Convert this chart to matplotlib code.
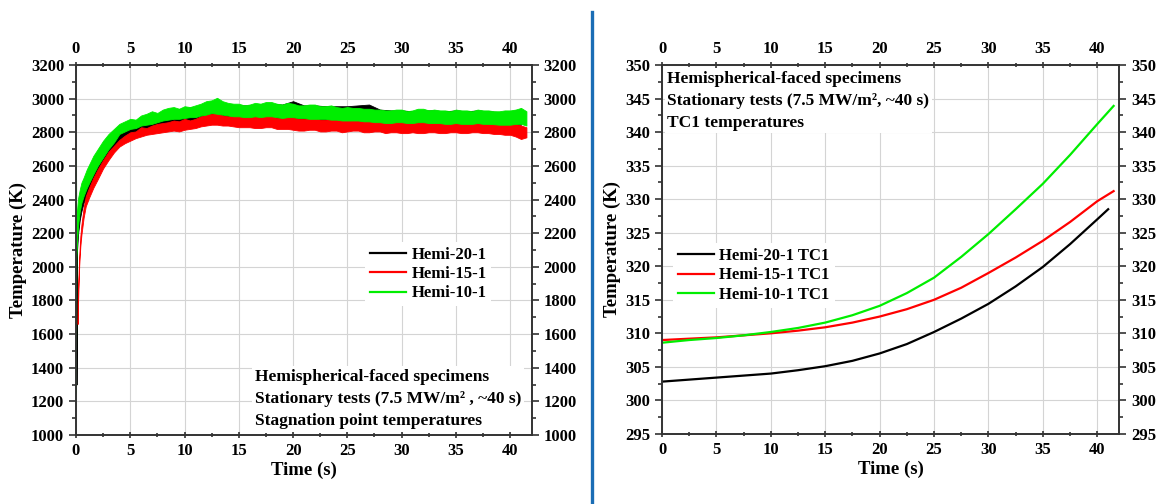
import matplotlib
matplotlib.use("Agg")
import matplotlib.pyplot as plt
from matplotlib.ticker import MultipleLocator
from matplotlib.lines import Line2D
import numpy as np

plt.rcParams["font.family"] = ["Liberation Serif", "DejaVu Serif"]
plt.rcParams["font.weight"] = "bold"

# ---- left panel: stagnation point temperatures (noise band read as low/high envelope)
green_t_early = [0, 0.03, 0.1, 0.2, 0.35, 0.5, 0.7, 1.0, 1.3, 1.6, 2.0, 2.5, 3.0, 3.5]
green_low_early = [1250, 2050, 2150, 2250, 2330, 2380, 2420, 2470, 2510, 2550, 2600, 2650, 2700, 2740]
green_high_early = [2640, 2300, 2330, 2410, 2460, 2500, 2530, 2580, 2620, 2660, 2700, 2750, 2790, 2820]
green_high = [
    2850, 2865, 2880, 2875, 2900, 2910, 2925, 2915, 2935, 2945,
    2950, 2940, 2955, 2950, 2960, 2970, 2985, 2990, 3005, 2985,
    2975, 2970, 2970, 2960, 2965, 2975, 2970, 2980, 2980, 2970,
    2965, 2975, 2970, 2960, 2960, 2965, 2965, 2955, 2955, 2960,
    2950, 2945, 2950, 2945, 2945, 2940, 2940, 2935, 2935, 2930,
    2930, 2935, 2935, 2925, 2930, 2940, 2940, 2930, 2935, 2930,
    2930, 2925, 2935, 2930, 2930, 2925, 2935, 2930, 2930, 2925,
    2925, 2930, 2930, 2935, 2945, 2925]
green_low = [
    2790, 2805, 2820, 2825, 2840, 2845, 2850, 2860, 2870, 2875,
    2880, 2880, 2885, 2890, 2890, 2900, 2905, 2915, 2910, 2905,
    2900, 2895, 2895, 2890, 2890, 2895, 2890, 2895, 2895, 2890,
    2885, 2890, 2890, 2885, 2885, 2880, 2880, 2880, 2880, 2875,
    2875, 2870, 2870, 2870, 2870, 2865, 2865, 2860, 2860, 2855,
    2855, 2860, 2860, 2855, 2855, 2860, 2860, 2855, 2855, 2855,
    2850, 2850, 2855, 2850, 2850, 2850, 2855, 2850, 2850, 2848,
    2845, 2845, 2845, 2850, 2850, 2840]

red_t_early = [0.15, 0.2, 0.25, 0.3, 0.4, 0.5, 0.7, 0.9, 1.2, 1.6, 2.0, 2.5, 3.0, 3.5]
red_low_early = [1660, 1800, 1920, 2010, 2120, 2190, 2290, 2360, 2410, 2470, 2520, 2585, 2635, 2680]
red_high_early = [1780, 1880, 1980, 2070, 2180, 2250, 2350, 2420, 2470, 2530, 2580, 2635, 2685, 2720]
red_high = [
    2755, 2780, 2800, 2805, 2830, 2825, 2840, 2850, 2855, 2860,
    2870, 2865, 2880, 2870, 2880, 2895, 2905, 2910, 2915, 2900,
    2895, 2900, 2905, 2890, 2890, 2895, 2895, 2900, 2900, 2885,
    2885, 2895, 2890, 2880, 2880, 2885, 2885, 2875, 2875, 2880,
    2880, 2870, 2870, 2875, 2875, 2865, 2870, 2875, 2875, 2865,
    2865, 2870, 2870, 2860, 2865, 2860, 2860, 2870, 2870, 2860,
    2865, 2870, 2870, 2860, 2860, 2870, 2870, 2865, 2865, 2860,
    2860, 2855, 2855, 2850, 2840, 2830]
red_low = [
    2715, 2735, 2750, 2765, 2775, 2785, 2790, 2795, 2800, 2805,
    2810, 2805, 2815, 2820, 2825, 2835, 2840, 2845, 2845, 2840,
    2840, 2835, 2830, 2830, 2830, 2825, 2825, 2830, 2830, 2820,
    2820, 2820, 2815, 2810, 2810, 2815, 2815, 2805, 2805, 2810,
    2810, 2800, 2805, 2810, 2810, 2800, 2800, 2805, 2805, 2795,
    2800, 2800, 2795, 2795, 2800, 2795, 2795, 2800, 2800, 2795,
    2795, 2800, 2800, 2795, 2795, 2800, 2800, 2795, 2795, 2790,
    2790, 2785, 2785, 2775, 2760, 2770]

black_t = [0.05, 0.1, 0.2, 0.35, 0.5, 0.7, 1.0, 1.3, 1.6, 2.0, 2.5, 3.0, 3.5,
           4, 5, 6, 7, 8, 9, 10, 11, 12, 13, 14, 15, 16, 17, 18, 19, 20,
           21, 22, 23, 24, 25, 26, 27, 28, 29, 30, 31, 32, 33, 34, 35, 36,
           37, 38, 39, 40, 41]
black_low = [1300, 2100, 2200, 2280, 2330, 2380, 2430, 2470, 2510, 2560, 2610, 2660, 2700,
             2745, 2775, 2805, 2825, 2845, 2860, 2870, 2875, 2885, 2890, 2885, 2880, 2880,
             2880, 2885, 2880, 2885, 2875, 2875, 2870, 2870, 2870, 2870, 2870, 2855, 2850,
             2850, 2850, 2850, 2850, 2845, 2850, 2845, 2850, 2845, 2840, 2840, 2845]
black_high = [2100, 2200, 2290, 2360, 2400, 2440, 2490, 2530, 2570, 2620, 2670, 2710, 2750,
              2800, 2835, 2865, 2890, 2910, 2930, 2945, 2950, 2965, 2975, 2965, 2960, 2960,
              2965, 2970, 2965, 2985, 2960, 2960, 2955, 2955, 2955, 2960, 2965, 2935, 2930,
              2930, 2925, 2930, 2930, 2925, 2930, 2925, 2930, 2925, 2920, 2925, 2935]

# ---- right panel: TC1 temperatures
tc_t20 = [0, 2.5, 5, 7.5, 10, 12.5, 15, 17.5, 20, 22.5, 25, 27.5, 30, 32.5, 35, 37.5, 40, 41]
tc_20 = [302.8, 303.1, 303.4, 303.7, 304.0, 304.5, 305.1, 305.9, 307.0, 308.4,
         310.2, 312.2, 314.4, 317.0, 319.9, 323.3, 327.0, 328.5]
tc_t = [0, 2.5, 5, 7.5, 10, 12.5, 15, 17.5, 20, 22.5, 25, 27.5, 30, 32.5, 35, 37.5, 40, 41.5]
tc_15 = [309.0, 309.2, 309.4, 309.7, 310.0, 310.4, 310.9, 311.6, 312.5, 313.6,
         315.0, 316.8, 319.0, 321.3, 323.8, 326.6, 329.7, 331.2]
tc_10 = [308.6, 309.0, 309.3, 309.7, 310.2, 310.8, 311.6, 312.7, 314.1, 316.0,
         318.3, 321.4, 324.8, 328.5, 332.3, 336.6, 341.2, 343.9]

BLACK, RED, GREEN = "#000000", "#ff0000", "#00ee00"

fig = plt.figure(figsize=(11.6, 5.04), dpi=100)
ax1 = fig.add_axes([0.0655, 0.137, 0.393, 0.734])
ax2 = fig.add_axes([0.5707, 0.139, 0.394, 0.732])


def style_axes(ax, ymaj, ymin):
    ax.xaxis.set_major_locator(MultipleLocator(5))
    ax.xaxis.set_minor_locator(MultipleLocator(2.5))
    ax.yaxis.set_major_locator(MultipleLocator(ymaj))
    ax.yaxis.set_minor_locator(MultipleLocator(ymin))
    ax.grid(True, which="major", color="#d4d4d4", lw=0.8)
    ax.set_axisbelow(True)
    ax.tick_params(which="both", bottom=True, left=True, right=True, top=True,
                   labelbottom=True, labelleft=True, labelright=True, labeltop=True,
                   direction="out", labelsize=12, color="#333333", width=1.2)
    ax.tick_params(which="major", length=5)
    ax.tick_params(which="minor", length=3)
    ax.tick_params(axis="x", which="both", top=True, direction="inout")
    for lab in ax.get_xticklabels() + ax.get_yticklabels():
        lab.set_fontweight("bold")
    for sp in ax.spines.values():
        sp.set_linewidth(1.4)
        sp.set_color("#333333")
    ax.set_xlabel("Time (s)", fontsize=13.5, fontweight="bold", labelpad=2)
    ax.set_ylabel("Temperature (K)", fontsize=13.5, fontweight="bold", labelpad=3)


# left panel
tg = np.concatenate([green_t_early, np.arange(4, 41.75, 0.5)])
tr = np.concatenate([red_t_early, np.arange(4, 41.75, 0.5)])
ax1.fill_between(black_t, black_low, black_high, color=BLACK, lw=0.6)
ax1.fill_between(tr, np.concatenate([red_low_early, red_low]),
                 np.concatenate([red_high_early, red_high]), color=RED, lw=0.6)
ax1.fill_between(tg, np.concatenate([green_low_early, green_low]),
                 np.concatenate([green_high_early, green_high]), color=GREEN, lw=0.6)
ax1.set_xlim(0, 42)
ax1.set_ylim(1000, 3200)
style_axes(ax1, 200, 100)

handles = [Line2D([], [], color=c, lw=1.6) for c in (BLACK, RED, GREEN)]
ax1.legend(handles, ["Hemi-20-1", "Hemi-15-1", "Hemi-10-1"],
           loc="upper left", bbox_to_anchor=(0.615, 0.545), frameon=True,
           fancybox=False, edgecolor="none", framealpha=1,
           prop={"weight": "bold", "size": 12}, handlelength=2.2,
           handletextpad=0.3, labelspacing=0.2, borderpad=0.3)
ax1.text(0.392, 0.178, "Hemispherical-faced specimens\nStationary tests (7.5 MW/m² , ~40 s)\n"
         "Stagnation point temperatures", transform=ax1.transAxes, ha="left", va="top",
         fontsize=12.5, fontweight="bold", linespacing=1.5,
         bbox=dict(facecolor="white", edgecolor="none", pad=2))

# right panel
ax2.plot(tc_t20, tc_20, color=BLACK, lw=1.6, label="Hemi-20-1 TC1")
ax2.plot(tc_t, tc_15, color=RED, lw=1.6, label="Hemi-15-1 TC1")
ax2.plot(tc_t, tc_10, color=GREEN, lw=1.6, label="Hemi-10-1 TC1")
ax2.set_xlim(0, 42)
ax2.set_ylim(295, 350)
style_axes(ax2, 5, 2.5)
ax2.legend(loc="upper left", bbox_to_anchor=(0.005, 0.54), frameon=True,
           fancybox=False, edgecolor="none", framealpha=1,
           prop={"weight": "bold", "size": 12}, handlelength=2.2,
           handletextpad=0.3, labelspacing=0.2, borderpad=0.3)
ax2.text(0.012, 0.985, "Hemispherical-faced specimens\nStationary tests (7.5 MW/m², ~40 s)\n"
         "TC1 temperatures", transform=ax2.transAxes, ha="left", va="top",
         fontsize=12.5, fontweight="bold", linespacing=1.5,
         bbox=dict(facecolor="white", edgecolor="none", pad=2))

# blue separator between the panels
fig.add_artist(Line2D([0.5103, 0.5103], [0.0, 0.976], transform=fig.transFigure,
                      color="#1a6db5", lw=2.4))

fig.savefig("out.png", dpi=100, facecolor="white")
